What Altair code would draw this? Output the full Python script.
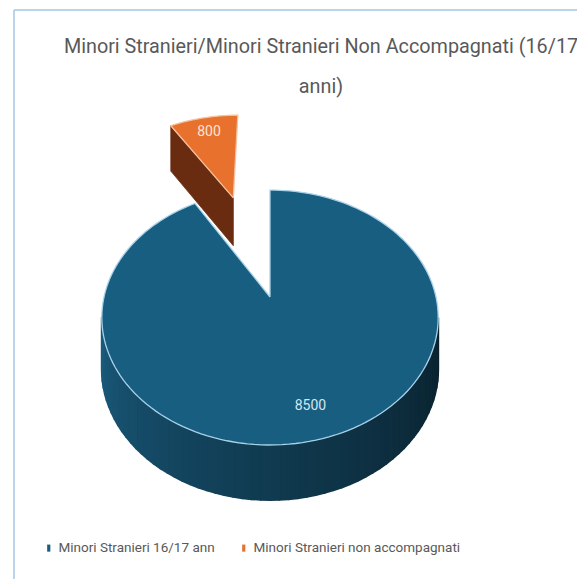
import math
import altair as alt
import pandas as pd

# ---------------- data ----------------
categories = ["Minori Stranieri 16/17 ann", "Minori Stranieri non accompagnati"]
values = [8500, 800]
value_labels = ["8500", "800"]
explode = [0.0, 0.95]          # fraction of the radius each slice is pulled out
title_lines = ["Minori Stranieri/Minori Stranieri Non Accompagnati (16/17", "anni)"]

# ---------------- styles / 3-D look ----------------
FONT = "Roboto, sans-serif"
top_colors = ["#185e80", "#e8712d"]
edge_colors = ["#a9d2ea", "#f6c29d"]
cut_colors = ["#0e3346", "#6a2c10"]
label_colors = ["#d3e6f2", "#fbe4d4"]
side_range = ["#0a212d", "#103a50", "#1a5a7b"]

CX, CY = 270.0, 297.0      # pie centre (image pixels)
R = 166.0                  # radius
A = 0.748                  # tilt (vertical squash)
K = 0.161                  # perspective strength
H0 = 50.8                  # thickness

W_IMG, H_IMG = 585, 587
PAD = 8


def proj(X, Z, down=False):
    s = 1.0 / (1.0 + K * Z / R)
    x = CX + X * s
    y = CY - Z * A * s
    if down:
        y += H0 * s ** 0.45
    return x, y


total = float(sum(values))
angles = []
acc = 0.0
for v in values:
    a0 = acc
    acc += v / total * 360.0
    angles.append((a0, acc))

top_rows, side_rows, cut_rows, label_rows = [], [], [], []
pid = 0
for ci, (cat, (a0, a1), ex) in enumerate(zip(categories, angles, explode)):
    am = math.radians((a0 + a1) / 2)
    ox, oz = ex * R * math.sin(am), ex * R * math.cos(am)

    def outer(theta_deg, down=False):
        t = math.radians(theta_deg)
        return proj(ox + R * math.sin(t), oz + R * math.cos(t), down)

    # top face
    n = max(4, int((a1 - a0) / 2))
    pts = [proj(ox, oz)]
    pts += [outer(a0 + (a1 - a0) * j / n) for j in range(n + 1)]
    pts.append(proj(ox, oz))
    for j, (x, y) in enumerate(pts):
        top_rows.append({"poly": pid, "i": j, "x": x, "y": y, "cat": cat})
    pid += 1

    # outer (curved) side, front half only
    vis0 = math.degrees(math.acos(-K))
    vis1 = 360.0 - vis0
    s0, s1 = max(a0, vis0), min(a1, vis1)
    if s1 > s0:
        m = 60
        for j in range(m):
            t0 = s0 + (s1 - s0) * j / m
            t1 = s0 + (s1 - s0) * (j + 1) / m
            quad = [outer(t0), outer(t1), outer(t1, True), outer(t0, True), outer(t0)]
            for q, (x, y) in enumerate(quad):
                side_rows.append({"poly": pid, "i": q, "x": x, "y": y,
                                  "ang": (t0 + t1) / 2})
            pid += 1

    # radial cut faces
    for edge, visible in ((a0, math.sin(math.radians(a0)) < -1e-6),
                          (a1, math.sin(math.radians(a1)) > 1e-6)):
        if visible and ex > 0:
            quad = [proj(ox, oz), outer(edge), outer(edge, True),
                    proj(ox, oz, True), proj(ox, oz)]
            for q, (x, y) in enumerate(quad):
                cut_rows.append({"poly": pid, "i": q, "x": x, "y": y, "cat": cat})
            pid += 1

    # value label
    lx, ly = proj(ox + 0.8 * R * math.sin(am), oz + 0.8 * R * math.cos(am))
    label_rows.append({"x": lx, "y": ly, "text": value_labels[ci], "cat": cat})

top_df = pd.DataFrame(top_rows)
side_df = pd.DataFrame(side_rows)
cut_df = pd.DataFrame(cut_rows)
lab_df = pd.DataFrame(label_rows)

VW, VH = W_IMG - 2 * PAD, H_IMG - 2 * PAD
xs = alt.Scale(domain=[PAD, PAD + VW])
ys = alt.Scale(domain=[PAD, PAD + VH], reverse=True)
X = alt.X("x:Q", scale=xs, axis=None)
Y = alt.Y("y:Q", scale=ys, axis=None)

side = alt.Chart(side_df).mark_line(strokeWidth=2, interpolate="linear",
                                    strokeJoin="round").encode(
    x=X, y=Y, detail="poly:N", order="i:Q",
    fill=alt.Fill("ang:Q", scale=alt.Scale(domain=[100, 180, 260], range=side_range), legend=None),
    stroke=alt.Stroke("ang:Q", scale=alt.Scale(domain=[100, 180, 260], range=side_range), legend=None),
)

cut = alt.Chart(cut_df).mark_line(strokeWidth=0.8).encode(
    x=X, y=Y, detail="poly:N", order="i:Q",
    fill=alt.Fill("cat:N", scale=alt.Scale(domain=categories, range=cut_colors), legend=None),
    stroke=alt.Stroke("cat:N", scale=alt.Scale(domain=categories, range=cut_colors), legend=None),
)

top = alt.Chart(top_df).mark_line(strokeWidth=1.3).encode(
    x=X, y=Y, detail="poly:N", order="i:Q",
    fill=alt.Fill("cat:N", scale=alt.Scale(domain=categories, range=top_colors),
                  legend=alt.Legend(title=None, orient="none", direction="horizontal",
                                    legendX=34, legendY=533,
                                    symbolType="M-0.45,-1L0.45,-1L0.45,1L-0.45,1Z",
                                    symbolSize=50, symbolStrokeWidth=0,
                                    labelFont=FONT, labelFontSize=13.5,
                                    labelColor="#595959", labelOffset=3,
                                    columnPadding=22, labelLimit=400)),
    stroke=alt.Stroke("cat:N", scale=alt.Scale(domain=categories, range=edge_colors), legend=None),
)

labels = alt.Chart(lab_df).mark_text(font=FONT, fontSize=14, baseline="middle").encode(
    x=X, y=Y, text="text:N",
    color=alt.Color("cat:N", scale=alt.Scale(domain=categories, range=label_colors), legend=None),
)

title = alt.Chart(pd.DataFrame({"t": [0]})).mark_text(
    font=FONT, fontSize=19.8, color="#595959", align="center",
    baseline="alphabetic", lineHeight=40,
).encode(x=alt.value(313), y=alt.value(45), text=alt.value(title_lines))

border_top = alt.Chart(pd.DataFrame({"t": [0]})).mark_rule(
    color="#a4c6e6", strokeWidth=1.5
).encode(x=alt.value(6), x2=alt.value(VW), y=alt.value(2))
border_left = alt.Chart(pd.DataFrame({"t": [0]})).mark_rule(
    color="#a4c6e6", strokeWidth=1.5
).encode(x=alt.value(6), y=alt.value(2), y2=alt.value(VH))

chart = alt.layer(side, cut, top, labels, title, border_top, border_left).resolve_scale(
    fill="independent", stroke="independent", color="independent"
).properties(
    width=VW, height=VH, padding=0, autosize=alt.AutoSizeParams(type="none"),
    background="white",
).configure_view(stroke=None)

chart.save("out.html", embed_options={"renderer": "svg", "actions": False})
